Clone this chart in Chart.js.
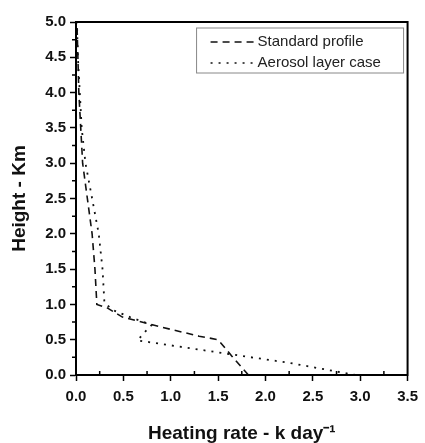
<!DOCTYPE html>
<html>
<head>
<meta charset="utf-8">
<script src="https://cdn.jsdelivr.net/npm/chart.js@4.4.1/dist/chart.umd.min.js"></script>
<style>
  html, body { margin: 0; padding: 0; background: #fff; }
</style>
</head>
<body>
<canvas id="graficoPerfil" width="425" height="443"></canvas>
<script>
// Standard profile (dashed)
const stdRate   = [1.82, 1.65, 1.5, 1.3, 1.02, 0.78, 0.49, 0.33, 0.22, 0.2, 0.17, 0.12, 0.07, 0.05, 0.03, 0.02, 0.01];
const stdHeight = [0.0, 0.26, 0.5, 0.55, 0.64, 0.72, 0.82, 0.95, 1.0, 1.5, 2.0, 2.5, 3.0, 3.5, 4.0, 4.5, 5.0];

// Aerosol layer case (dotted)
const aerRate   = [2.95, 2.26, 1.4, 0.65, 0.72, 0.8, 0.57, 0.39, 0.3, 0.28, 0.24, 0.17, 0.1, 0.06, 0.04, 0.02, 0.01];
const aerHeight = [0.0, 0.17, 0.34, 0.49, 0.6, 0.71, 0.82, 0.92, 1.02, 1.5, 2.0, 2.5, 3.0, 3.5, 4.0, 4.5, 5.0];

const seriesLabels = ["Standard profile", "Aerosol layer case"];

const xTicks = [0, 0.5, 1.0, 1.5, 2.0, 2.5, 3.0, 3.5];
const yTicks = [0, 0.5, 1.0, 1.5, 2.0, 2.5, 3.0, 3.5, 4.0, 4.5, 5.0];

const toPoints = (xs, ys) => xs.map((x, i) => ({ x: x, y: ys[i] }));

const tickFont = { family: "Liberation Sans, Arial, sans-serif", size: 15, weight: "bold" };
const titleFont = { family: "Liberation Sans, Arial, sans-serif", size: 19, weight: "bold" };

// frame around the plot + minor ticks
const marcoPlugin = {
  id: "marco",
  afterDraw(chart) {
    const { ctx, chartArea: a, scales } = chart;
    ctx.save();
    ctx.strokeStyle = "#000";
    ctx.lineWidth = 1.5;
    ctx.beginPath();
    for (let i = 0; i < xTicks.length - 1; i++) {
      const px = scales.x.getPixelForValue((xTicks[i] + xTicks[i + 1]) / 2);
      ctx.moveTo(px, a.bottom);
      ctx.lineTo(px, a.bottom - 4);
    }
    for (let i = 0; i < yTicks.length - 1; i++) {
      const py = scales.y.getPixelForValue((yTicks[i] + yTicks[i + 1]) / 2);
      ctx.moveTo(a.left, py);
      ctx.lineTo(a.left - 4, py);
    }
    ctx.stroke();
    ctx.lineWidth = 2;
    ctx.strokeRect(a.left, a.top, a.right - a.left, a.bottom - a.top);
    ctx.restore();
  },
};

// legend inside the plot, top right
const leyendaPlugin = {
  id: "leyenda",
  afterDraw(chart) {
    const { ctx, chartArea: a } = chart;
    const right = a.right - 4, top = a.top + 6;
    const left = right - 207, bottom = top + 45;
    ctx.save();
    ctx.strokeStyle = "#888";
    ctx.lineWidth = 1;
    ctx.strokeRect(left, top, right - left, bottom - top);
    ctx.font = "15px Liberation Sans, Arial, sans-serif";
    ctx.textBaseline = "middle";
    ctx.fillStyle = "#222";
    chart.data.datasets.forEach((ds, i) => {
      const y = top + 14 + i * 21;
      ctx.beginPath();
      ctx.strokeStyle = "#111";
      ctx.lineWidth = 1.5;
      ctx.setLineDash(ds.borderDash);
      ctx.moveTo(left + 14, y);
      ctx.lineTo(left + 58, y);
      ctx.stroke();
      ctx.setLineDash([]);
      ctx.fillText(ds.label, left + 61, y);
    });
    ctx.restore();
  },
};

new Chart(document.getElementById("graficoPerfil"), {
  type: "scatter",
  data: {
    datasets: [
      {
        label: seriesLabels[0],
        data: toPoints(stdRate, stdHeight),
        showLine: true,
        borderColor: "#111",
        borderWidth: 1.6,
        borderDash: [7, 5],
        pointRadius: 0,
      },
      {
        label: seriesLabels[1],
        data: toPoints(aerRate, aerHeight),
        showLine: true,
        borderColor: "#111",
        borderWidth: 1.8,
        borderDash: [2, 6],
        pointRadius: 0,
      },
    ],
  },
  options: {
    responsive: false,
    animation: false,
    layout: { padding: { top: 22, right: 14, left: 0, bottom: 0 } },
    plugins: {
      legend: { display: false },
      tooltip: { enabled: false },
    },
    scales: {
      x: {
        type: "linear",
        min: 0,
        max: 3.5,
        afterFit: (s) => { s.height = 68; },
        afterBuildTicks: (s) => { s.ticks = xTicks.map((v) => ({ value: v })); },
        ticks: {
          color: "#111",
          font: tickFont,
          padding: 7,
          maxRotation: 0,
          callback: (v) => v.toFixed(1),
        },
        grid: { drawOnChartArea: false, tickLength: 6, tickWidth: 1.5, tickColor: "#000" },
        border: { color: "#000", width: 2 },
        title: {
          display: true,
          text: "Heating rate - k day⁻¹",
          color: "#111",
          font: { ...titleFont, lineHeight: 1 },
          padding: { top: 0, bottom: 0 },
        },
      },
      y: {
        type: "linear",
        min: 0,
        max: 5,
        afterFit: (s) => { s.width = 76; },
        afterBuildTicks: (s) => { s.ticks = yTicks.map((v) => ({ value: v })); },
        ticks: {
          color: "#111",
          font: tickFont,
          padding: 4,
          callback: (v) => v.toFixed(1),
        },
        grid: { drawOnChartArea: false, tickLength: 6, tickWidth: 1.5, tickColor: "#000" },
        border: { color: "#000", width: 2 },
        title: {
          display: true,
          text: "Height - Km",
          color: "#111",
          font: titleFont,
          padding: { top: 8, bottom: 0 },
        },
      },
    },
  },
  plugins: [marcoPlugin, leyendaPlugin],
});
</script>
</body>
</html>
